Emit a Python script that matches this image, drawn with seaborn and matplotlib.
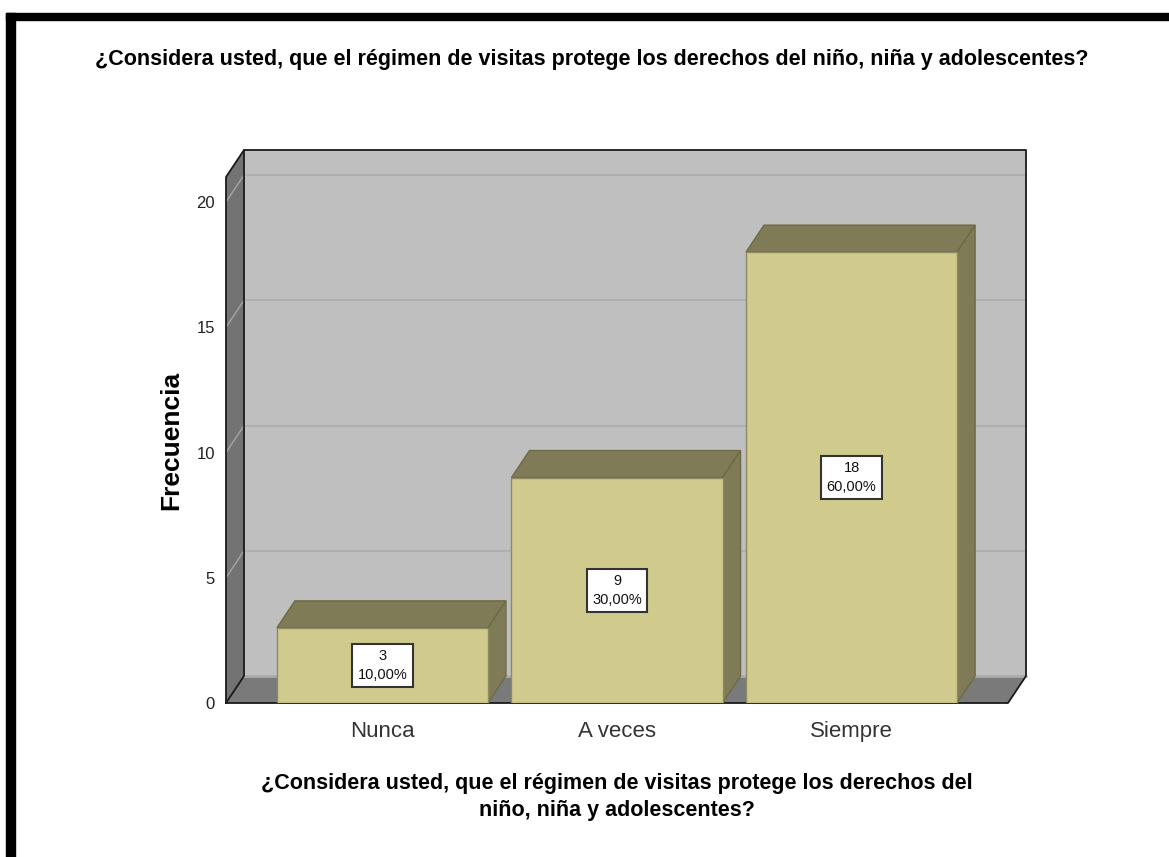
import matplotlib
matplotlib.use('Agg')
import matplotlib.pyplot as plt
from matplotlib.patches import Polygon, Rectangle
import pandas as pd
import seaborn as sns

# Data
categories = ['Nunca', 'A veces', 'Siempre']
counts = [3, 9, 18]
percents = ['10,00%', '30,00%', '60,00%']
y_ticks = [0, 5, 10, 15, 20]
title = '¿Considera usted, que el régimen de visitas protege los derechos del niño, niña y adolescentes?'
x_title = '¿Considera usted, que el régimen de visitas protege los derechos del\nniño, niña y adolescentes?'

sns.set_theme(style='white')
plt.rcParams['font.family'] = ['Liberation Sans', 'DejaVu Sans']

W, H = 1169, 857
fig = plt.figure(figsize=(W / 100, H / 100), dpi=100)
ax = fig.add_axes([226 / W, (H - 703) / H, 782 / W, 526 / H])

df = pd.DataFrame({'cat': categories, 'n': counts})
sns.barplot(data=df, x='cat', y='n', color='#D0CB8D', saturation=1, width=0.9, ax=ax,
            edgecolor='#8E8A62', linewidth=1, zorder=5)

x0, x1 = -0.667, 2.667
y0, y1 = 0, 21
ax.set_xlim(x0, x1)
ax.set_ylim(y0, y1)

# 3D depth of the box, in data units
dx = 18 / (782 / (x1 - x0))
dy = 27 / (526 / (y1 - y0))

wall = '#BFBFBF'
side = '#737373'
dark = '#7F7B56'


def face(pts, color, z, edge='none', lw=0):
    ax.add_patch(Polygon(pts, closed=True, facecolor=color, edgecolor=edge, linewidth=lw,
                         zorder=z, clip_on=False))


# walls and floor
face([(x0 + dx, dy), (x1 + dx, dy), (x1 + dx, y1 + dy), (x0 + dx, y1 + dy)], wall, 0)
face([(x0, 0), (x0 + dx, dy), (x0 + dx, y1 + dy), (x0, y1)], side, 1)
face([(x0, 0), (x1, 0), (x1 + dx, dy), (x0 + dx, dy)], '#7A7A7A', 1)

for t in y_ticks[1:]:
    ax.plot([x0 + dx, x1 + dx], [t + dy, t + dy], color='#B0B0B0', lw=1.5, zorder=1, clip_on=False)
    ax.plot([x0, x0 + dx], [t, t + dy], color='#A6A6A6', lw=1, zorder=2, clip_on=False)
ax.plot([x0 + dx, x1 + dx], [dy, dy], color='#ABABAB', lw=2, zorder=1, clip_on=False)

# black outline of the box
ax.plot([x0, x0, x0 + dx, x1 + dx, x1 + dx, x1, x0], [0, y1, y1 + dy, y1 + dy, dy, 0, 0],
        color='#1A1A1A', lw=1.3, zorder=3, clip_on=False)
ax.plot([x0 + dx, x0 + dx, x0], [y1 + dy, dy, 0], color='#1A1A1A', lw=1.3, zorder=3, clip_on=False)

# top and side of each bar, built from the seaborn bars
for bar, n, pct in zip(ax.patches[:3], counts, percents):
    l = bar.get_x()
    r = l + bar.get_width()
    h = bar.get_height()
    face([(l, h), (r, h), (r + dx, h + dy), (l + dx, h + dy)], dark, 4, '#6E6A48', 1)
    face([(r, 0), (r + dx, dy), (r + dx, h + dy), (r, h)], dark, 4, '#6E6A48', 1)
    ax.text((l + r) / 2, h / 2, f'{n}\n{pct}', ha='center', va='center', fontsize=10.5,
            linespacing=1.45, color='#111111', zorder=7,
            bbox=dict(boxstyle='square,pad=0.36', facecolor='white', edgecolor='#333333', linewidth=1.5))

ax.set_yticks(y_ticks)
sns.despine(ax=ax, left=True, bottom=True)
ax.patch.set_visible(False)
ax.tick_params(axis='both', length=0)
ax.tick_params(axis='x', labelsize=16, pad=13, colors='#333333')
ax.tick_params(axis='y', labelsize=12, pad=8, colors='#222222')
ax.set_xlabel(x_title, fontsize=15.5, fontweight='bold', color='black', linespacing=1.35)
ax.xaxis.set_label_coords(0.5, (703 - 773) / 526)
ax.set_ylabel('Frecuencia', fontsize=19, fontweight='bold', color='black')
ax.yaxis.set_label_coords((183 - 226) / 782, (703 - 440) / 526)

fig.text(592 / W, 1 - 60 / H, title, ha='center', va='center', fontsize=15.5, fontweight='bold', color='black')

# thick black frame (top and left only)
fig.add_artist(Rectangle((6 / W, 1 - 20 / H), 1 - 6 / W, 7 / H, transform=fig.transFigure, color='black'))
fig.add_artist(Rectangle((6 / W, 0), 9 / W, 1 - 13 / H, transform=fig.transFigure, color='black'))

fig.savefig('out.png', dpi=100)
